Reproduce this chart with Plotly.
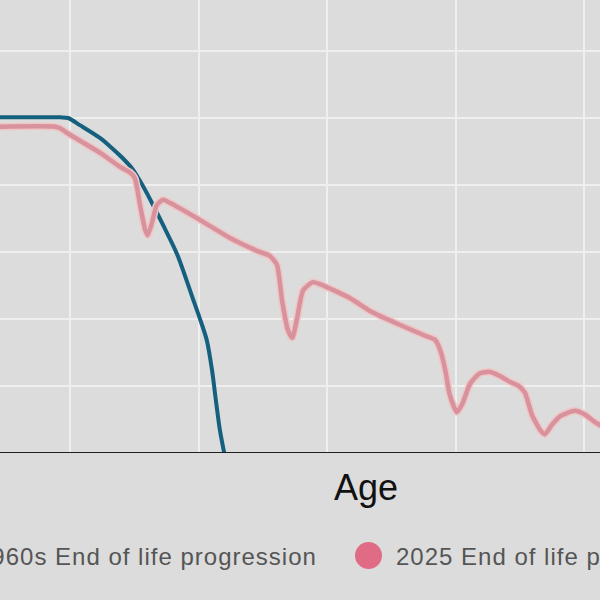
import plotly.graph_objects as go

# Data (age vs. level of functioning)
age_1960 = [9.1, 18.5, 19.7, 21.6, 24.7, 26.2, 28.1, 29.8, 31.2, 32.5, 34.5, 36.7, 39.1, 40.2, 41.3, 42.1, 42.7, 43.3, 44.0]
val_1960 = [50.1, 50.1, 50.0, 48.9, 47.0, 45.8, 44.1, 42.3, 40.1, 37.8, 34.0, 29.6, 23.1, 20.1, 16.8, 12.4, 7.9, 3.6, 0.0]

age_2025 = [9.1, 17.7, 18.4, 20.0, 24.7, 27.8, 29.3, 30.1, 30.9, 31.7, 32.1, 32.8, 33.5, 34.5, 35.6,
            40.2, 44.9, 49.3, 51.1, 52.2, 53.0, 53.9, 54.6, 55.3, 56.3, 57.8, 58.9, 63.6, 66.7, 71.4,
            75.3, 76.8, 77.6, 78.4, 79.1, 80.2, 81.0, 82.3, 83.8, 85.4, 86.9, 88.5, 89.7, 90.8, 91.9,
            93.2, 93.9, 95.0, 96.3, 98.6, 100.2, 101.7, 103.0]
val_2025 = [48.7, 48.7, 48.5, 47.5, 44.8, 42.7, 41.9, 41.0, 37.0, 33.3, 32.5, 34.5, 37.0, 37.8, 37.3,
            34.8, 32.1, 30.1, 29.4, 28.1, 22.8, 18.4, 17.2, 19.9, 24.3, 25.5, 25.2, 23.1, 21.2, 19.1,
            17.5, 16.9, 15.4, 12.4, 8.7, 6.1, 7.2, 10.4, 11.9, 12.1, 11.5, 10.6, 10.1, 9.0, 5.7,
            3.4, 2.8, 4.2, 5.5, 6.3, 5.7, 4.6, 3.9]

legend_labels = ["1960s End of life progression", "2025 End of life progression"]
x_title = "Age"

BG = "#dcdcdc"
BLUE = "#16607f"
PINK = "#d8929e"
PINK_HALO = "#f0c6c4"
PINK_MARK = "#e06b85"
FONT = "Liberation Sans, Arial, Helvetica, sans-serif"

fig = go.Figure()
fig.add_trace(go.Scatter(x=age_1960, y=val_1960, mode="lines",
                         line=dict(color=BLUE, width=4, shape="spline", smoothing=0.8),
                         showlegend=False, hoverinfo="skip"))
fig.add_trace(go.Scatter(x=age_2025, y=val_2025, mode="lines",
                         line=dict(color=PINK_HALO, width=7.5, shape="spline", smoothing=0.6),
                         showlegend=False, hoverinfo="skip"))
fig.add_trace(go.Scatter(x=age_2025, y=val_2025, mode="lines",
                         line=dict(color=PINK, width=4.5, shape="spline", smoothing=0.6),
                         showlegend=False, hoverinfo="skip"))

fig.update_layout(
    width=600, height=600,
    margin=dict(l=0, r=0, t=0, b=147, pad=0),
    paper_bgcolor=BG, plot_bgcolor=BG,
    showlegend=False,
    xaxis=dict(range=[9.105, 102.49], tick0=0, dtick=20, showgrid=True, gridcolor="#efefef",
               gridwidth=2, showticklabels=False, ticks="", zeroline=False,
               showline=False, fixedrange=True),
    yaxis=dict(range=[0, 67.61], tick0=0, dtick=10, showgrid=True, gridcolor="#efefef",
               gridwidth=2, showticklabels=False, ticks="", zeroline=False,
               showline=False, fixedrange=True),
    font=dict(family=FONT),
)

# baseline
fig.add_shape(type="line", xref="paper", yref="y", x0=0, x1=1, y0=0, y1=0,
              line=dict(color="#1e1e1e", width=2), layer="above")

# axis title
fig.add_annotation(text=x_title, xref="paper", yref="paper", x=366/600, y=(453-487)/453,
                   xanchor="center", yanchor="middle", showarrow=False,
                   font=dict(size=36, color="#111111", family=FONT))

# custom legend
ly = (453 - 556) / 453
def spaced(t):
    return '<span style="letter-spacing:1px">' + t + '</span>'
fig.add_annotation(text=spaced(legend_labels[0]), xref="paper", yref="paper", x=319/600, y=ly,
                   xanchor="right", yanchor="middle", showarrow=False,
                   font=dict(size=24, color="#555555", family=FONT))
fig.add_annotation(text=spaced(legend_labels[1]), xref="paper", yref="paper", x=394/600, y=ly,
                   xanchor="left", yanchor="middle", showarrow=False,
                   font=dict(size=24, color="#555555", family=FONT))
r = 13.5
fig.add_shape(type="circle", xref="paper", yref="paper",
              x0=(368.5 - r)/600, x1=(368.5 + r)/600,
              y0=(453 - 555.5 - r)/453, y1=(453 - 555.5 + r)/453,
              fillcolor=PINK_MARK, line=dict(width=0))
fig.add_shape(type="circle", xref="paper", yref="paper",
              x0=(-60 - r)/600, x1=(-60 + r)/600,
              y0=(453 - 555.5 - r)/453, y1=(453 - 555.5 + r)/453,
              fillcolor=BLUE, line=dict(width=0))

fig.write_html("out.html")
